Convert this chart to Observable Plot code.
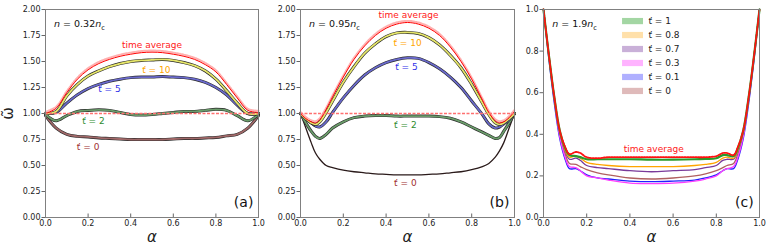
<!DOCTYPE html>
<html><head><meta charset="utf-8">
<script src="https://cdn.jsdelivr.net/npm/d3@7"></script>
<script src="https://cdn.jsdelivr.net/npm/@observablehq/plot@0.6"></script>
<style>
body{margin:0;background:#fff;}
#wrap{position:relative;width:772px;height:251px;overflow:hidden;background:#fff;}
#wrap>div{position:absolute;top:0;}
#wrap svg{background:transparent !important;max-width:none !important;overflow:visible;}
g[aria-label="x-axis label"] text{font-size:15px;font-style:italic;}
g[aria-label="y-axis label"] text{font-size:15px;}
</style></head><body><div id="wrap"><div id="pa" style="left:0"></div><div id="pb" style="left:260px"></div><div id="pc" style="left:518px"></div></div>
<script>
// ---------- data ----------
const xTicks = [0, 0.2, 0.4, 0.6, 0.8, 1.0];
const yTicksAB = [0, 0.25, 0.5, 0.75, 1.0, 1.25, 1.5, 1.75, 2.0];
const yTicksC = [0, 0.2, 0.4, 0.6, 0.8, 1.0];
const unity = [1.0];

// panel (a): n = 0.32 n_c
const alphaA = [0,0.05,0.1,0.15,0.2,0.25,0.3,0.35,0.4,0.45,0.5,0.55,0.6,0.65,0.7,0.75,0.8,0.85,0.9,0.95,1.0];
const avgA = [1.0,1.05,1.2,1.33,1.42,1.48,1.52,1.55,1.57,1.585,1.59,1.585,1.57,1.55,1.52,1.47,1.40,1.28,1.15,1.03,1.01];
const t10A = [1.0,1.02,1.17,1.28,1.36,1.41,1.45,1.48,1.50,1.51,1.515,1.52,1.51,1.49,1.46,1.41,1.33,1.22,1.1,1.0,1.0];
const t5A  = [1.0,1.01,1.1,1.18,1.24,1.28,1.31,1.33,1.345,1.35,1.35,1.355,1.35,1.345,1.33,1.3,1.25,1.18,1.08,1.0,1.0];
const t2A  = [0.99,0.93,0.98,1.02,1.03,1.035,1.03,1.01,0.99,0.985,0.99,1.0,1.01,1.02,1.02,1.03,1.04,1.03,0.98,0.93,0.99];
const t0A  = [0.98,0.86,0.8,0.78,0.775,0.765,0.76,0.755,0.75,0.75,0.75,0.75,0.755,0.76,0.76,0.765,0.77,0.785,0.8,0.86,0.98];

// panel (b): n = 0.95 n_c
const alphaB = [0,0.025,0.05,0.07,0.09,0.12,0.15,0.2,0.25,0.3,0.35,0.4,0.45,0.5,0.55,0.6,0.65,0.7,0.75,0.8,0.85,0.88,0.91,0.93,0.95,0.975,1.0];
const avgB = [1.0,0.95,0.92,0.91,0.94,1.04,1.16,1.35,1.52,1.65,1.75,1.82,1.86,1.875,1.86,1.82,1.75,1.64,1.5,1.33,1.13,1.01,0.93,0.91,0.92,0.96,1.02];
const t10B = [1.0,0.95,0.91,0.895,0.92,1.01,1.12,1.3,1.45,1.58,1.67,1.74,1.775,1.78,1.77,1.73,1.66,1.56,1.44,1.28,1.1,0.99,0.91,0.895,0.91,0.95,1.0];
const t5B  = [1.0,0.95,0.91,0.88,0.87,0.92,1.01,1.15,1.27,1.37,1.44,1.49,1.52,1.535,1.53,1.49,1.43,1.35,1.25,1.12,0.99,0.9,0.86,0.87,0.9,0.94,1.0];
const t2B  = [1.0,0.91,0.83,0.78,0.76,0.8,0.86,0.92,0.96,0.975,0.98,0.98,0.975,0.975,0.975,0.975,0.97,0.955,0.92,0.87,0.82,0.79,0.76,0.77,0.83,0.91,1.0];
const t0B  = [1.0,0.86,0.72,0.62,0.56,0.5,0.48,0.455,0.44,0.43,0.42,0.415,0.41,0.41,0.41,0.415,0.42,0.43,0.44,0.46,0.49,0.52,0.58,0.64,0.72,0.86,1.0];

// panel (c): n = 1.9 n_c
const alphaC = [0,0.025,0.05,0.075,0.1,0.12,0.15,0.17,0.2,0.25,0.3,0.4,0.5,0.6,0.7,0.75,0.8,0.83,0.85,0.88,0.9,0.925,0.95,0.975,1.0];
const avgC = [1,0.78,0.58,0.42,0.34,0.305,0.315,0.31,0.29,0.285,0.29,0.29,0.29,0.29,0.29,0.29,0.295,0.31,0.31,0.3,0.34,0.42,0.58,0.78,1];
const t1C  = [1,0.78,0.58,0.42,0.335,0.3,0.295,0.29,0.28,0.28,0.28,0.28,0.278,0.278,0.28,0.282,0.285,0.3,0.3,0.295,0.335,0.42,0.58,0.78,1];
const t08C = [1,0.78,0.58,0.41,0.325,0.29,0.295,0.285,0.265,0.255,0.25,0.245,0.245,0.245,0.25,0.255,0.265,0.285,0.29,0.285,0.325,0.41,0.58,0.78,1];
const t07C = [1,0.78,0.57,0.41,0.32,0.28,0.285,0.275,0.25,0.24,0.235,0.225,0.22,0.225,0.23,0.24,0.25,0.275,0.28,0.28,0.32,0.41,0.57,0.78,1];
const t03C = [1,0.77,0.56,0.39,0.29,0.245,0.24,0.225,0.2,0.19,0.18,0.165,0.163,0.165,0.175,0.185,0.2,0.225,0.235,0.245,0.29,0.39,0.56,0.77,1];
const t01C = [1,0.76,0.55,0.38,0.28,0.235,0.235,0.225,0.205,0.19,0.185,0.175,0.172,0.175,0.18,0.19,0.205,0.225,0.235,0.235,0.28,0.38,0.55,0.76,1];
const t0C  = [1,0.78,0.57,0.40,0.305,0.26,0.255,0.245,0.23,0.215,0.205,0.19,0.185,0.19,0.2,0.21,0.225,0.24,0.25,0.26,0.305,0.4,0.57,0.78,1];

const legendC = ["t\u030C = 1","t\u030C = 0.8","t\u030C = 0.7","t\u030C = 0.3","t\u030C = 0.1","t\u030C = 0"];
const legendFill = ["#a3d6a3","#ffe0aa","#c9b0d8","#ffb3ff","#b0b0ff","#dfbaba"];

const labelsA = [["time average",0.50,1.66,"#ff2020"],["t\u030C = 10",0.52,1.42,"#ffa500"],["t\u030C = 5",0.30,1.23,"#3030e8"],["t\u030C = 2",0.225,0.93,"#2e8b2e"],["t\u030C = 0",0.20,0.68,"#a03030"]];
const labelsB = [["time average",0.505,1.95,"#ff2020"],["t\u030C = 10",0.50,1.68,"#ffa500"],["t\u030C = 5",0.495,1.45,"#3030e8"],["t\u030C = 2",0.49,0.885,"#2e8b2e"],["t\u030C = 0",0.49,0.33,"#a03030"]];

// ---------- helpers ----------
const curve = "catmull-rom";
const tidy = (al, v) => al.map((a, i) => ({a, v: v[i]}));
const font = "DejaVu Sans, sans-serif";

function band(data, color, w = 1.8, edge = "#2a2a2a") {
  return [
    Plot.line(data, {x: "a", y: "v", stroke: edge, strokeWidth: w + 1.2, curve}),
    Plot.line(data, {x: "a", y: "v", stroke: color, strokeWidth: w, curve})
  ];
}
function avgLine(data) {
  return [
    Plot.line(data, {x: "a", y: "v", stroke: "#ffb0b0", strokeWidth: 2, strokeDasharray: "1.5,1", dy: -1.6, curve}),
    Plot.line(data, {x: "a", y: "v", stroke: "#ff0000", strokeWidth: 1, curve})
  ];
}
function unityLine() {
  return Plot.ruleY(unity, {y: d => d, stroke: "#ff7070", strokeDasharray: "3,1.5", strokeWidth: 1.6});
}
function labelMarks(list) {
  return list.map(([t, x, y, c]) => Plot.text([t], {x: () => x, y: () => y, text: d => d, fill: c, fontSize: 9}));
}
function common({width, mL, mR, yDomain, yTicks, yFmt, yLabel, tag, nText, marks}) {
  const H = 251, mT = 9, mB = 34;
  return Plot.plot({
    width, height: H, marginLeft: mL, marginRight: mR, marginTop: mT, marginBottom: mB,
    style: {fontFamily: font, fontSize: "8px", color: "#222", background: "transparent", overflow: "visible"},
    x: {domain: [0, 1]},
    y: {domain: yDomain},
    marks: [
      ...marks,
      Plot.ruleX(xTicks, {x: d => d, stroke: "#666", insetTop: H - mT - mB - 3.5}),
      Plot.axisY({ticks: yTicks, tickFormat: yFmt, tickSize: 3.5, tickPadding: 1.5, stroke: "#666",
        label: yLabel, labelAnchor: "center", labelArrow: "none", labelOffset: 43}),
      Plot.axisX({ticks: xTicks, tickFormat: ".1f", tickSize: 0, tickPadding: 3,
        label: "α", labelAnchor: "center", labelArrow: "none", labelOffset: 24}),
      Plot.frame({stroke: "#808080"}),
      Plot.text([nText], {x: () => 0.04, y: () => yDomain[1] * 0.93, text: d => d, textAnchor: "start", fontSize: 9.5, fill: "#111"}),
      Plot.text([tag], {x: () => 0.93, y: () => yDomain[1] * 0.072, text: d => d, fontSize: 14, fill: "#111"})
    ]
  });
}
function mathify(svg) {
  const ns = "http://www.w3.org/2000/svg";
  svg.querySelectorAll("text").forEach(t => {
    const m = /^n = (.+)nc$/.exec(t.textContent);
    if (!m) return;
    t.textContent = "";
    const add = (s, attrs = {}) => { const ts = document.createElementNS(ns, "tspan"); ts.textContent = s; for (const k in attrs) ts.setAttribute(k, attrs[k]); t.appendChild(ts); };
    add("n", {"font-style": "italic"}); add(" = " + m[1]); add("n", {"font-style": "italic"});
    add("c", {"font-size": "6.5", "dy": "2.5"});
  });
  return svg;
}

// ---------- panel (a) ----------
const pa = common({
  width: 266, mL: 45, mR: 8, yDomain: [0, 2], yTicks: yTicksAB, yFmt: ".2f", yLabel: "ω\u0303",
  tag: "(a)", nText: "n = 0.32nc",
  marks: [
    ...band(tidy(alphaA, t0A), "#a06868"),
    ...band(tidy(alphaA, t2A), "#6a9c6a"),
    ...band(tidy(alphaA, t5A), "#6a6acc"),
    ...band(tidy(alphaA, t10A), "#e6e66a"),
    ...avgLine(tidy(alphaA, avgA)),
    unityLine(),
    ...labelMarks(labelsA)
  ]
});
document.getElementById("pa").appendChild(mathify(pa));

// ---------- panel (b) ----------
const pb = common({
  width: 262, mL: 40, mR: 8, yDomain: [0, 2], yTicks: yTicksAB, yFmt: ".2f", yLabel: null,
  tag: "(b)", nText: "n = 0.95nc",
  marks: [
    Plot.line(tidy(alphaB, t0B), {x: "a", y: "v", stroke: "#2a1a1a", strokeWidth: 1.3, curve}),
    ...band(tidy(alphaB, t2B), "#6a9c6a"),
    ...band(tidy(alphaB, t5B), "#6a6acc"),
    ...band(tidy(alphaB, t10B), "#e6e66a"),
    ...avgLine(tidy(alphaB, avgB)),
    unityLine(),
    ...labelMarks(labelsB)
  ]
});
document.getElementById("pb").appendChild(mathify(pb));

// ---------- panel (c) ----------
const cLines = [[t0C, "#b06060", 1.3], [t01C, "#2020ff", 1.3], [t03C, "#ff40ff", 1.3], [t07C, "#7a3a9a", 1.3], [t08C, "#ffa500", 1.3], [t1C, "#2a9a2a", 2.2]];
const pc = common({
  width: 254, mL: 25, mR: 13, yDomain: [0, 1], yTicks: yTicksC, yFmt: ".1f", yLabel: null,
  tag: "(c)", nText: "n = 1.9nc",
  marks: [
    Plot.ruleY(unity, {y: d => d, stroke: "white", strokeWidth: 1.6}),
    Plot.ruleY(unity, {y: d => d, stroke: "#888", strokeWidth: 1.2, strokeDasharray: "2,1.5"}),
    ...cLines.map(([v, c, w]) => Plot.line(tidy(alphaC, v), {x: "a", y: "v", stroke: c, strokeWidth: w, curve})),
    Plot.line(tidy(alphaC, avgC), {x: "a", y: "v", stroke: "#ff1010", strokeWidth: 1.8, strokeDasharray: "1.5,1.2", curve}),
    Plot.text(["time average"], {x: () => 0.51, y: () => 0.33, text: d => d, fill: "#ff2020", fontSize: 9}),
    ...legendC.map((t, i) => Plot.rect([t], {x1: () => 0.366, x2: () => 0.463, y1: () => 0.927 - i * 0.0672, y2: () => 0.957 - i * 0.0672, fill: legendFill[i]})),
    ...legendC.map((t, i) => Plot.text([t], {x: () => 0.486, y: () => 0.942 - i * 0.0672, text: d => d, textAnchor: "start", fontSize: 9, fill: "#222"}))
  ]
});
document.getElementById("pc").appendChild(mathify(pc));
</script></body></html>
